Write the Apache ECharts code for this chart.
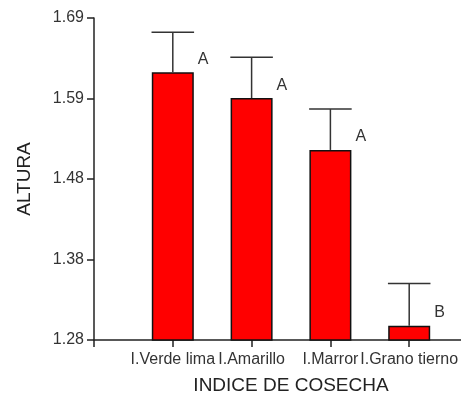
<!DOCTYPE html>
<html>
<head>
<meta charset="utf-8">
<style>
  html, body { margin: 0; padding: 0; background: #fff; }
  #chart { width: 461px; height: 400px; }
</style>
<script src="https://cdn.jsdelivr.net/npm/echarts@6/dist/echarts.min.js"></script>
</head>
<body>
<div id="chart"></div>
<script>
// Harvest index groups
const categories = ['I.Verde lima', 'I.Amarillo', 'I.Marror', 'I.Grano tierno'];
// Mean height per group
const means = [1.621, 1.588, 1.522, 1.298];
// Upper end of the error whisker
const upper = [1.672, 1.640, 1.574, 1.352];
// Significance letters
const letters = ['A', 'A', 'A', 'B'];
// Y axis tick values and their printed labels
const yTickValues = [1.28, 1.3825, 1.485, 1.5875, 1.69];
const yTickLabels = ['1.28', '1.38', '1.48', '1.59', '1.69'];

// Axis slots: an empty slot at the y axis, then the groups, then trailing space
const axisSlots = [''].concat(categories, ['']);
const barData = means.map((v, i) => [i + 1, v]);
const errData = means.map((v, i) => [i + 1, v, upper[i], i]);

const BAR_FRAC = 0.54;
const font = 'Liberation Sans, Arial, sans-serif';

const chart = echarts.init(document.getElementById('chart'), null, { renderer: 'canvas' });
chart.setOption({
  animation: false,
  backgroundColor: '#ffffff',
  grid: { left: 94, right: -27, top: 18, bottom: 60, containLabel: false, outerBoundsMode: 'none' },
  xAxis: {
    type: 'category',
    data: axisSlots,
    boundaryGap: false,
    name: 'INDICE DE COSECHA',
    nameLocation: 'middle',
    nameGap: 36,
    nameTextStyle: { fontFamily: font, fontSize: 19, color: '#222' },
    axisLine: { show: true, lineStyle: { color: '#222', width: 1.5 } },
    axisTick: {
      show: true, length: 7, inside: false,
      interval: (idx) => idx <= categories.length,
      lineStyle: { color: '#222', width: 1.5 }
    },
    axisLabel: {
      interval: 0, margin: 12,
      fontFamily: font, fontSize: 16, color: '#333'
    },
    splitLine: { show: false }
  },
  yAxis: {
    type: 'value',
    min: 1.28,
    max: 1.69,
    name: 'ALTURA',
    nameLocation: 'middle',
    nameGap: 60,
    nameTextStyle: { fontFamily: font, fontSize: 19, color: '#222' },
    axisLine: { show: true, lineStyle: { color: '#222', width: 1.5 } },
    axisTick: {
      show: true, length: 7, inside: false,
      customValues: yTickValues,
      lineStyle: { color: '#222', width: 1.5 }
    },
    axisLabel: {
      margin: 10,
      customValues: yTickValues,
      fontFamily: font, fontSize: 16, color: '#333',
      formatter: (v) => {
        let best = 0;
        yTickValues.forEach((t, i) => { if (Math.abs(t - v) < Math.abs(yTickValues[best] - v)) best = i; });
        return yTickLabels[best];
      }
    },
    splitLine: { show: false }
  },
  series: [
    {
      type: 'bar',
      data: barData,
      barWidth: 42,
      clip: true,
      itemStyle: { color: '#ff0000', borderColor: '#111', borderWidth: 1.5 },
      z: 2
    },
    {
      type: 'custom',
      data: errData,
      z: 3,
      renderItem: (params, api) => {
        const x = api.value(0);
        const top = api.coord([x, api.value(2)]);
        const base = api.coord([x, api.value(1)]);
        const band = api.size([1, 0])[0];
        const half = band * BAR_FRAC / 2;
        const stroke = { stroke: '#333', lineWidth: 1.5 };
        return {
          type: 'group',
          children: [
            { type: 'line', shape: { x1: top[0], y1: base[1], x2: top[0], y2: top[1] }, style: stroke },
            { type: 'line', shape: { x1: top[0] - half, y1: top[1], x2: top[0] + half, y2: top[1] }, style: stroke },
            {
              type: 'text',
              style: {
                text: letters[api.value(3)],
                x: base[0] + 25, y: base[1] - 13,
                align: 'left', verticalAlign: 'middle',
                font: '16px ' + font, fill: '#333'
              }
            }
          ]
        };
      }
    }
  ]
});
</script>
</body>
</html>
